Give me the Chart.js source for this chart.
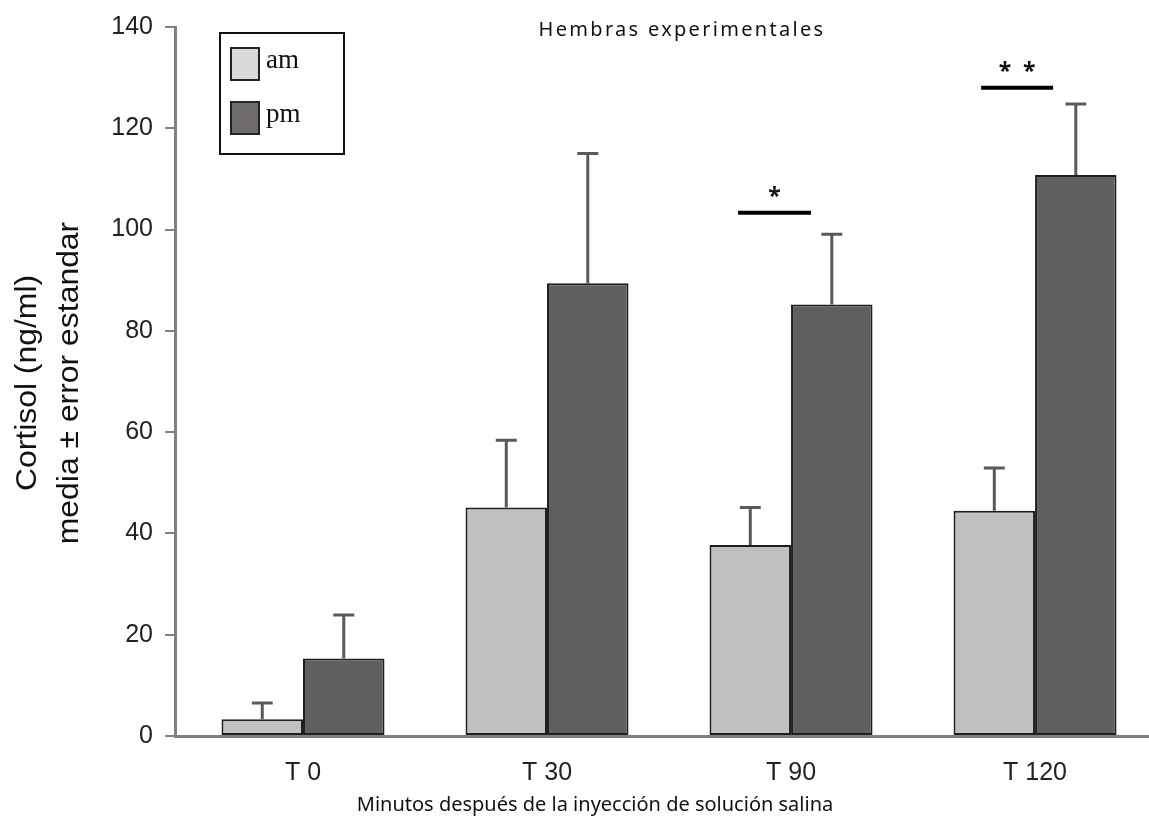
<!DOCTYPE html>
<html>
<head>
<meta charset="utf-8">
<script src="https://cdn.jsdelivr.net/npm/chart.js@4.4.1/dist/chart.umd.min.js"></script>
<style>
  html, body { margin: 0; padding: 0; background: #fff; }
  #wrap { width: 1149px; height: 818px; }
</style>
</head>
<body>
<div id="wrap"><canvas id="chart" width="1149" height="818"></canvas></div>
<script>
// ===== data =====
const categories = ["T 0", "T 30", "T 90", "T 120"];
const amValues = [3.3, 45.1, 37.7, 44.5];
const amErrors = [3.2, 13.3, 7.4, 8.4];
const pmValues = [15.3, 89.4, 85.2, 110.8];
const pmErrors = [8.6, 25.6, 13.9, 14.0];
const yTicks = [0, 20, 40, 60, 80, 100, 120, 140];

// significance bars (x in category units, y in data units)
const sigFrom = [1.783, 2.779];
const sigTo = [2.082, 3.074];
const sigLevel = [103.3, 128.0];
const sigLabel = ["*", "*  *"];

const chartTitle = "Hembras experimentales";
const xTitle = "Minutos después de la inyección de solución salina";
const yTitle = ["Cortisol (ng/ml)", "media ± error estandar"];

const AM_COLOR = "#c0c0c0";
const PM_COLOR = "#5f5f5f";

// error bars on top of each bar
const errorBarPlugin = {
  id: "errorBars",
  afterDatasetsDraw(chart) {
    const ctx = chart.ctx;
    const y = chart.scales.y;
    chart.data.datasets.forEach((ds, di) => {
      const meta = chart.getDatasetMeta(di);
      meta.data.forEach((bar, i) => {
        const top = y.getPixelForValue(ds.data[i].y + ds.errors[i]);
        ctx.save();
        ctx.strokeStyle = "#5a5a5a";
        ctx.lineWidth = 3;
        ctx.beginPath();
        ctx.moveTo(bar.x, bar.y);
        ctx.lineTo(bar.x, top);
        ctx.moveTo(bar.x - 10.5, top);
        ctx.lineTo(bar.x + 10.5, top);
        ctx.stroke();
        ctx.restore();
      });
    });
  }
};

// titles, legend box, significance marks
const decorPlugin = {
  id: "decor",
  afterDraw(chart) {
    const ctx = chart.ctx;
    const xs = chart.scales.x, ys = chart.scales.y;

    // significance lines
    ctx.save();
    ctx.strokeStyle = "#000";
    ctx.fillStyle = "#111";
    ctx.lineWidth = 4;
    ctx.font = "bold 23px 'Noto Sans'";
    ctx.textAlign = "center";
    ctx.textBaseline = "alphabetic";
    sigLevel.forEach((lv, i) => {
      const py = ys.getPixelForValue(lv);
      const x1 = xs.getPixelForValue(sigFrom[i]);
      const x2 = xs.getPixelForValue(sigTo[i]);
      ctx.beginPath();
      ctx.moveTo(x1, py);
      ctx.lineTo(x2, py);
      ctx.stroke();
      ctx.fillText(sigLabel[i], (x1 + x2) / 2, py - 9);
    });
    ctx.restore();

    // main title
    ctx.save();
    ctx.fillStyle = "#111";
    ctx.font = "20px 'Noto Sans'";
    ctx.letterSpacing = "2.3px";
    ctx.textAlign = "center";
    ctx.textBaseline = "middle";
    ctx.fillText(chartTitle, 682, 30);
    ctx.restore();

    // x title
    ctx.save();
    ctx.fillStyle = "#111";
    ctx.font = "20px 'Noto Sans'";
    ctx.letterSpacing = "0px";
    ctx.textAlign = "center";
    ctx.textBaseline = "middle";
    ctx.fillText(xTitle, 595, 805);
    ctx.restore();

    // y title (two rotated lines)
    ctx.save();
    ctx.fillStyle = "#111";
    ctx.font = "29px 'Liberation Sans'";
    ctx.textAlign = "center";
    ctx.textBaseline = "alphabetic";
    [36, 78].forEach((bx, i) => {
      ctx.save();
      ctx.translate(bx, 383);
      ctx.rotate(-Math.PI / 2);
      ctx.scale(1.1, 1);
      ctx.fillText(yTitle[i], 0, 0);
      ctx.restore();
    });
    ctx.restore();

    // legend
    ctx.save();
    ctx.strokeStyle = "#111";
    ctx.lineWidth = 2;
    ctx.strokeRect(220, 33, 124, 121);
    const items = [["am", "#d9d9d9", 48], ["pm", "#6f6b6b", 102]];
    items.forEach(([label, col, top]) => {
      ctx.fillStyle = col;
      ctx.fillRect(231, top, 28, 32);
      ctx.strokeStyle = "#222";
      ctx.strokeRect(231, top, 28, 32);
      ctx.fillStyle = "#111";
      ctx.font = "27px 'Liberation Serif'";
      ctx.textAlign = "left";
      ctx.textBaseline = "middle";
      ctx.fillText(label, 266, top + 13);
    });
    ctx.restore();
  }
};

const toPoints = vals => vals.map((v, i) => ({ x: i, y: v }));

new Chart(document.getElementById("chart"), {
  type: "bar",
  data: {
    datasets: [
      { label: "am", data: toPoints(amValues), errors: amErrors, backgroundColor: AM_COLOR,
        borderColor: "#1e1e1e", borderWidth: 2, borderSkipped: false },
      { label: "pm", data: toPoints(pmValues), errors: pmErrors, backgroundColor: PM_COLOR,
        borderColor: "#1e1e1e", borderWidth: 2, borderSkipped: false }
    ]
  },
  options: {
    responsive: false,
    animation: false,
    categoryPercentage: 0.668,
    barPercentage: 1.0,
    layout: { padding: { top: 22, right: 0, bottom: 0, left: 0 } },
    plugins: { legend: { display: false }, title: { display: false }, tooltip: { enabled: false } },
    scales: {
      x: {
        type: "linear",
        min: -0.5246,
        max: 3.467,
        offset: false,
        afterBuildTicks: s => { s.ticks = categories.map((_, i) => ({ value: i })); },
        afterFit: s => { s.height = 82; },
        ticks: {
          callback: v => categories[v] ?? "",
          font: { family: "'Liberation Sans'", size: 25 },
          color: "#222",
          padding: 14,
          maxRotation: 0,
          autoSkip: false
        },
        grid: { display: false },
        border: { display: true, color: "#808080", width: 3 }
      },
      y: {
        min: 0,
        max: 140,
        afterBuildTicks: s => { s.ticks = yTicks.map(v => ({ value: v })); },
        afterFit: s => { s.width = 175; },
        ticks: {
          font: { family: "'Liberation Sans'", size: 25 },
          color: "#222",
          padding: 12
        },
        grid: { drawOnChartArea: false, drawTicks: true, tickLength: 10, color: "#808080", lineWidth: 2 },
        border: { display: true, color: "#808080", width: 3 }
      }
    }
  },
  plugins: [errorBarPlugin, decorPlugin]
});
</script>
</body>
</html>
